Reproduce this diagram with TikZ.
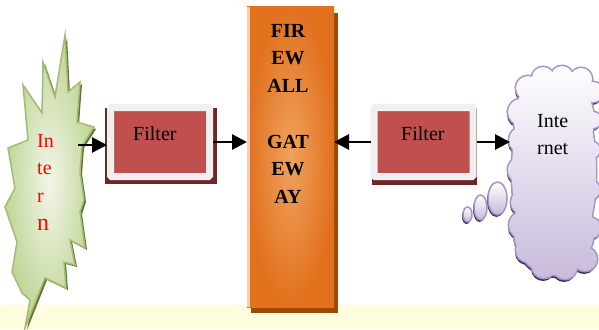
\documentclass[tikz,border=0pt]{standalone}
\usepackage{fontspec}
\setmainfont{Liberation Serif}
\usetikzlibrary{arrows.meta}

\definecolor{band}{HTML}{FFFDDD}
\definecolor{burstin}{HTML}{F2F6E8}
\definecolor{burstout}{HTML}{C0D596}
\definecolor{burstline}{HTML}{A3BD74}
\definecolor{burstshadow}{HTML}{5F7434}
\definecolor{filterred}{HTML}{C0504D}
\definecolor{framegray}{HTML}{F0F0F0}
\definecolor{filtershadow}{HTML}{6E2726}
\definecolor{fwin}{HTML}{F0A25F}
\definecolor{fwout}{HTML}{E1711D}
\definecolor{fwshadow}{HTML}{9A4B08}
\definecolor{fwedge}{HTML}{F6CDB0}
\definecolor{cloudbot}{HTML}{C6B9DA}
\definecolor{cloudline}{HTML}{A592C8}
\definecolor{cloudshadow}{HTML}{3E3058}

% outline of the jagged burst
\def\burstpath{(65,35) -- (68,92) -- (80,82) -- (77,122) -- (94,127) -- (82,146) --
  (80,172) -- (84,200) -- (80,212) -- (85,248) -- (70,240) -- (75,265) -- (64,262) --
  (66,288) -- (45,278) -- (25,328) -- (30,300) -- (22,293) -- (12,272) -- (17,242) --
  (5,207) -- (15,188) -- (8,148) -- (28,140) -- (23,85) -- (42,113) -- (43,62) --
  (55,97) -- cycle}

% cloud as a union of bumps
\def\cloudpath{(554,172) ellipse [x radius=42, y radius=100]
  (554,120) ellipse [x radius=40, y radius=45]
  (554,230) ellipse [x radius=40, y radius=45]
  (528,88) circle [radius=12] (543,78) circle [radius=11] (562,77) circle [radius=11]
  (581,79) circle [radius=11] (593,92) circle [radius=10]
  (521,112) circle [radius=13] (522,140) circle [radius=13] (522,170) circle [radius=14]
  (523,202) circle [radius=12] (522,225) circle [radius=13] (528,250) circle [radius=12]
  (544,266) circle [radius=12] (565,267) circle [radius=12] (585,259) circle [radius=12]
  (593,120) circle [radius=8] (592,150) circle [radius=8] (591,190) circle [radius=9]
  (591,228) circle [radius=10]}

\begin{document}
\begin{tikzpicture}[x=1pt, y=-1pt,
  txt/.style={font=\fontsize{20}{27.7}\selectfont, inner sep=0pt},
  arr/.style={line width=2.8pt, -{Triangle[length=15pt,width=15pt]}},
  filterbox/.style={draw=framegray, line width=7pt, rounded corners=1pt,
    fill=filterred, minimum width=99pt, minimum height=69pt, inner sep=0pt},
  fwbox/.style={minimum width=87pt, minimum height=300pt, inner sep=0pt,
    outer sep=0pt, inner color=fwin, outer color=fwout},
  bubble/.style={top color=white, bottom color=cloudbot, draw=cloudline, line width=1.5pt}]

\useasboundingbox (0,0) rectangle (599,329);
\fill[white] (0,0) rectangle (599,329);
\fill[band] (0,305) rectangle (599,329);

% jagged burst on the left
\fill[burstshadow, shift={(2,2)}] \burstpath;
\shade[inner color=burstin, outer color=burstout] \burstpath;
\draw[burstline, line width=1.5pt, line join=miter] \burstpath;
\node[txt, text=red, align=left, anchor=north west] (intern) at (37,134)
  {In\\te\\r\\{\fontsize{24}{33}\selectfont n}};
\coordinate (burstout) at (78,145);

% left filter
\fill[filtershadow] (105,108) rectangle (217,184);
\node[filterbox] (f1) at (160,142) {};
\node[txt, anchor=base west] (f1t) at (133,140) {Filter};

% firewall column
\fill[fwshadow] (251,13) rectangle (337.5,313);
\node[fwbox] (fw) at (290.5,157) {};
\fill[fwedge] (247,7) rectangle (249.5,307);
\node[txt, font=\fontsize{20}{27.7}\selectfont\bfseries, align=center, anchor=north]
  (fwt) at (288,24) {FIR\\EW\\ALL\\[27.7pt]GAT\\EW\\AY};

% right filter
\fill[filtershadow] (372,108) rectangle (477,185);
\node[filterbox] (f2) at (423.5,142) {};
\node[txt, anchor=base west] (f2t) at (401,140) {Filter};

% cloud
\fill[cloudshadow, shift={(-1,3)}] \cloudpath;
\draw[cloudline, line width=3pt] \cloudpath;
\begin{scope}
  \clip \cloudpath;
  \shade[top color=white, bottom color=cloudbot] (495,60) rectangle (610,285);
\end{scope}
\node[txt, align=left, anchor=north west] (net) at (537,113.8) {Inte\\rnet};
\coordinate (cloudin) at (510,142);

% thought bubbles
\fill[cloudshadow] (466.5,216.5) ellipse [x radius=4.5, y radius=7.5];
\fill[cloudshadow] (479.5,209.5) ellipse [x radius=6.5, y radius=12.5];
\fill[cloudshadow] (496.5,200.5) ellipse [x radius=9.5, y radius=16.5];
\path[bubble] (467.5,214.5) ellipse [x radius=4.5, y radius=7.5];
\path[bubble] (480.5,207.5) ellipse [x radius=6.5, y radius=12.5];
\path[bubble] (497.5,198.5) ellipse [x radius=9.5, y radius=16.5];

% connectors
\draw[arr] (burstout) -- (burstout -| f1.west);
\draw[arr] (f1.east) -- (f1.east -| fw.west);
\draw[arr] (f2.west) -- (f2.west -| fw.east);
\draw[arr] (f2.east) -- (cloudin);
\end{tikzpicture}
\end{document}
